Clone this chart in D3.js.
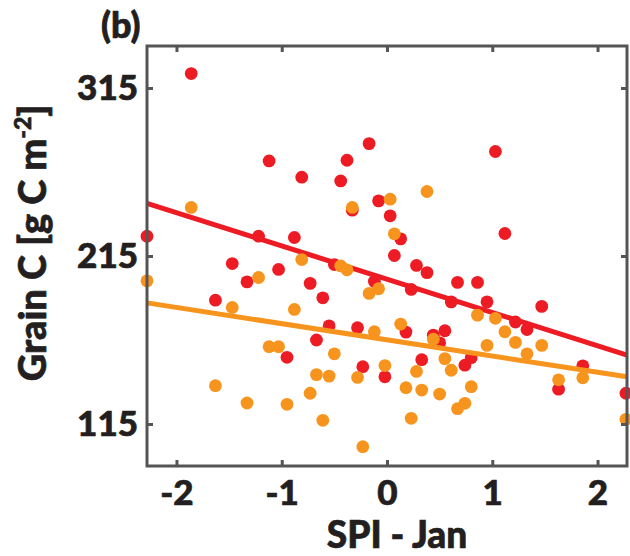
<!DOCTYPE html>
<html>
<head>
<meta charset="utf-8">
<script src="https://cdn.jsdelivr.net/npm/d3@7"></script>
<style>
  body { margin: 0; background: #fff; }
  svg text { font-family: Lato, "Open Sans", sans-serif; font-weight: 900; fill: #231f20;
             stroke: #231f20; stroke-width: 0.7px; }
</style>
</head>
<body>
<div id="chart"></div>
<script>
// SPI (January) for each year, sorted, shared by both series
var spi = [-2.28, -1.86, -1.63, -1.47, -1.33, -1.22, -1.12, -1.03, -0.95, -0.88,
           -0.81, -0.73, -0.67, -0.61, -0.55, -0.50, -0.44, -0.38, -0.33, -0.28,
           -0.23, -0.17, -0.12, -0.08, -0.02, 0.03, 0.07, 0.13, 0.18, 0.23,
           0.28, 0.33, 0.38, 0.44, 0.50, 0.55, 0.61, 0.67, 0.74, 0.80,
           0.86, 0.95, 1.03, 1.12, 1.22, 1.33, 1.47, 1.63, 1.86, 2.27];

var grainRed = [226.8, 323.6, 188.7, 210.5, 199.6, 226.8, 271.6, 207.0, 154.7, 226.0,
                261.9, 198.7, 165.0, 190.1, 173.4, 209.9, 259.7, 272.0, 242.3, 172.3,
                149.1, 281.9, 199.9, 247.8, 143.1, 238.9, 215.3, 225.2, 169.7, 195.1,
                209.4, 153.3, 205.1, 167.9, 163.3, 170.5, 187.7, 199.3, 150.0, 154.5,
                199.3, 187.7, 277.2, 228.4, 175.7, 171.2, 185.0, 135.7, 149.6, 133.3];

var grainOrange = [200.2, 243.9, 137.8, 184.4, 127.5, 202.2, 161.0, 161.0, 126.7, 183.2,
                   212.9, 133.3, 144.4, 117.2, 143.5, 156.8, 209.1, 206.8, 243.9, 142.7,
                   101.5, 192.7, 169.9, 195.5, 149.8, 248.8, 228.2, 174.5, 136.6, 118.4,
                   146.3, 135.2, 253.4, 165.5, 132.8, 153.9, 147.0, 124.1, 127.3, 137.2,
                   179.8, 161.8, 177.9, 169.9, 163.6, 156.8, 161.8, 141.3, 142.5, 117.8];

// regression lines [intercept, slope]
var fitRed = [201.2, -19.8];
var fitOrange = [165.1, -9.65];

var xTicks = [-2, -1, 0, 1, 2];
var yTicks = [115, 215, 315];

var width = 630, height = 556;
var margin = {top: 46, right: 3, bottom: 90, left: 147};
var w = width - margin.left - margin.right,
    h = height - margin.top - margin.bottom;

var svg = d3.select("#chart").append("svg")
    .attr("width", width)
    .attr("height", height);

var g = svg.append("g")
    .attr("transform", "translate(" + margin.left + "," + margin.top + ")");

var xScale = d3.scaleLinear().domain([-2.28, 2.28]).range([0, w]);
var yScale = d3.scaleLinear().domain([90, 340]).range([h, 0]);

var axisColor = "#555";
var plain = function(d) { return String(d); };

function styleAxis(sel) {
    sel.select(".domain").remove();
    sel.selectAll(".tick line").attr("stroke", axisColor).attr("stroke-width", 3);
    sel.selectAll(".tick text").attr("font-size", 35).attr("fill", "#231f20");
}

// points and fit lines
function drawSeries(values, fit, color) {
    g.append("g").selectAll("circle")
        .data(values)
        .enter().append("circle")
        .attr("cx", function(d, i) { return xScale(spi[i]); })
        .attr("cy", function(d) { return yScale(d); })
        .attr("r", 6.4)
        .attr("fill", color);

    var dom = xScale.domain();
    g.append("line")
        .attr("x1", xScale(dom[0]))
        .attr("x2", xScale(dom[1]))
        .attr("y1", yScale(fit[0] + fit[1] * dom[0]))
        .attr("y2", yScale(fit[0] + fit[1] * dom[1]))
        .attr("stroke", color)
        .attr("stroke-width", 5);
}

drawSeries(grainRed, fitRed, "#ED1C24");
drawSeries(grainOrange, fitOrange, "#F7941D");

// axes, ticks pointing inward on all four sides
g.append("g")
    .call(d3.axisLeft(yScale).tickValues(yTicks).tickSize(-6).tickPadding(9).tickFormat(plain))
    .call(styleAxis);

g.append("g")
    .attr("transform", "translate(" + w + ",0)")
    .call(d3.axisRight(yScale).tickValues(yTicks).tickSize(-6).tickFormat(""))
    .call(styleAxis);

g.append("g")
    .attr("transform", "translate(0," + h + ")")
    .call(d3.axisBottom(xScale).tickValues(xTicks).tickSize(-6).tickPadding(14).tickFormat(plain))
    .call(styleAxis);

g.append("g")
    .call(d3.axisTop(xScale).tickValues(xTicks).tickSize(-6).tickFormat(""))
    .call(styleAxis);

g.append("rect")
    .attr("width", w)
    .attr("height", h)
    .attr("fill", "none")
    .attr("stroke", axisColor)
    .attr("stroke-width", 3);

// labels
svg.append("text")
    .attr("x", 397)
    .attr("y", 548)
    .attr("text-anchor", "middle")
    .attr("font-size", 37)
    .text("SPI - Jan");

var yl = svg.append("text")
    .attr("transform", "translate(46,243) rotate(-90)")
    .attr("text-anchor", "middle")
    .attr("font-size", 38);
yl.append("tspan").text("Grain C [g C m");
yl.append("tspan").attr("font-size", 23).attr("dy", -15).text("-2");
yl.append("tspan").attr("dy", 15).text("]");

svg.append("text")
    .attr("x", 101)
    .attr("y", 38)
    .attr("font-size", 36)
    .text("(b)");
</script>
</body>
</html>
